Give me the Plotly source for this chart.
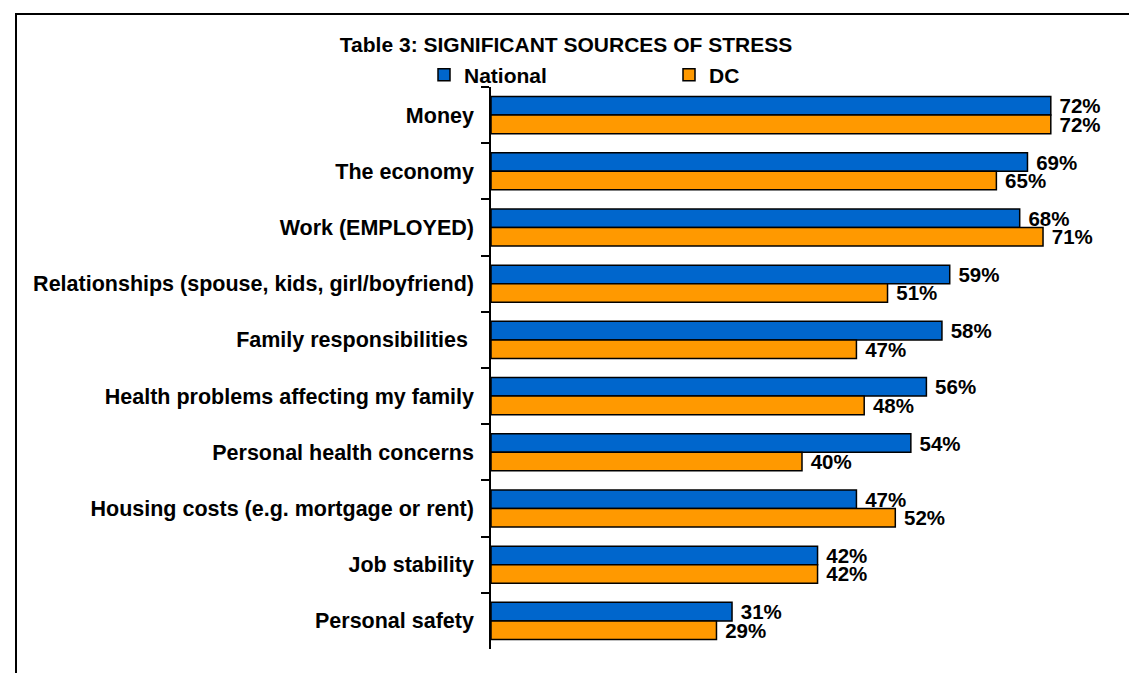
import plotly.graph_objects as go

categories = [
    "Money",
    "The economy",
    "Work (EMPLOYED)",
    "Relationships (spouse, kids, girl/boyfriend)",
    "Family responsibilities ",
    "Health problems affecting my family",
    "Personal health concerns",
    "Housing costs (e.g. mortgage or rent)",
    "Job stability",
    "Personal safety",
]
national = [72, 69, 68, 59, 58, 56, 54, 47, 42, 31]
dc = [72, 65, 71, 51, 47, 48, 40, 52, 42, 29]
series_names = ["National", "DC"]
title_text = "Table 3: SIGNIFICANT SOURCES OF STRESS"

FONT = "Arial, 'Liberation Sans', sans-serif"
W, H = 1137, 673
L, R, T, B = 483, 32, 79, 32
pw, ph = W - L - R, H - T - B

fig = go.Figure()
for name, vals, col in [(series_names[0], national, "#0066CC"), (series_names[1], dc, "#FF9900")]:
    fig.add_trace(go.Bar(
        y=categories, x=vals, name=name, orientation="h",
        marker=dict(color=col, line=dict(color="black", width=1.5)),
        text=vals, texttemplate=" %{x}%", textposition="outside",
        textfont=dict(family=FONT, size=20.5, color="black", weight="bold"),
        constraintext="none", cliponaxis=False,
    ))

def px_x(p):
    return (p - L) / pw

def px_y(p):
    return (H - B - p) / ph

fig.update_layout(
    width=W, height=H,
    margin=dict(l=L, r=R, t=T, b=B, pad=0),
    paper_bgcolor="white", plot_bgcolor="white",
    barmode="group", bargap=0.34, bargroupgap=0,
    font=dict(family=FONT, color="black"),
    title=dict(text=title_text, x=px_x(558), xref="paper", xanchor="center",
               y=1 - 37 / H, yref="container", yanchor="middle",
               font=dict(family=FONT, size=21, color="black", weight="bold")),
    legend=dict(orientation="h", x=px_x(416), xanchor="left", y=px_y(67), yanchor="middle",
                entrywidth=200, font=dict(family=FONT, size=21, color="black", weight="bold"),
                bgcolor="rgba(0,0,0,0)", traceorder="normal"),
    xaxis=dict(range=[0, 80], visible=False, showgrid=False, zeroline=False),
    yaxis=dict(autorange="reversed", showline=True, linecolor="black", linewidth=1.5,
               ticks="outside", tickson="boundaries", ticklen=8, tickwidth=1.5, tickcolor="black",
               ticklabelstandoff=11, showgrid=False,
               tickfont=dict(family=FONT, size=21.5, color="black", weight="bold")),
    shapes=[dict(type="rect", xref="paper", yref="paper",
                 x0=px_x(8), x1=px_x(W + 20), y0=px_y(H + 20), y1=px_y(6),
                 line=dict(color="black", width=2), fillcolor="rgba(0,0,0,0)", layer="below")],
)

fig.write_html("out.html")
